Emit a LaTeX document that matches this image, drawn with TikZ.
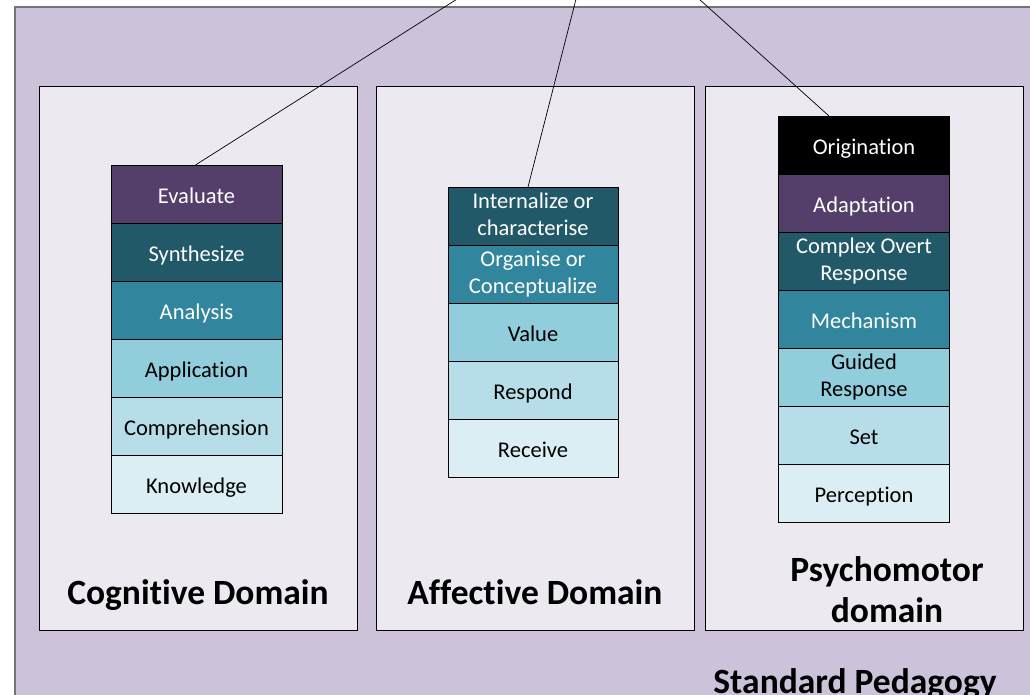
\documentclass[tikz,border=0pt]{standalone}
\usepackage{fontspec}
\setmainfont{Carlito}[Ligatures={NoCommon}]
\usetikzlibrary{positioning}

\definecolor{frameback}{HTML}{CCC3DA}
\definecolor{panelback}{HTML}{ECE9F1}
\definecolor{lvlone}{HTML}{DBEEF4}
\definecolor{lvltwo}{HTML}{B7DEE8}
\definecolor{lvlthree}{HTML}{92CDDC}
\definecolor{lvlfour}{HTML}{31859C}
\definecolor{lvlfive}{HTML}{215968}
\definecolor{lvlsix}{HTML}{543F6A}

% even strut for the level boxes
\newcommand\lvlstrut{\rule[-4pt]{0pt}{26pt}}

\tikzset{
  level/.style={draw=black, line width=0.8pt, inner sep=0pt, outer sep=0pt,
    align=center, minimum width=171pt, minimum height=58pt,
    font=\fontsize{22.5}{27}\selectfont,
    execute at begin node=\lvlstrut, execute at end node=\lvlstrut},
  light/.style={level, fill=#1, text=black},
  dark/.style={level, fill=#1, text=white},
  panel/.style={draw=black, line width=0.8pt, fill=panelback},
  domaintitle/.style={font=\fontsize{35.5}{41}\selectfont\bfseries, align=center}
}

\begin{document}
\begin{tikzpicture}[x=1pt, y=-1pt]
  \useasboundingbox (0,0) rectangle (1030,694);
  \clip (0,0) rectangle (1030,694);

  % outer frame
  \draw[draw=black!55, line width=1.5pt, fill=frameback] (15,7) rectangle (1060,720);

  % three domain panels
  \draw[panel] (39,86) rectangle (357,630);
  \draw[panel] (376,86) rectangle (694,630);
  \draw[panel] (705,86) rectangle (1023,630);

  % meeting point of the three lines, above the frame
  \coordinate (apex) at (599,-91);

  % cognitive levels
  \node[dark=lvlsix, anchor=north] (eval) at (196.5,165) {Evaluate};
  \node[dark=lvlfive, below=0pt of eval] (synth) {Synthesize};
  \node[dark=lvlfour, below=0pt of synth] (anal) {Analysis};
  \node[light=lvlthree, below=0pt of anal] (appl) {Application};
  \node[light=lvltwo, below=0pt of appl] (comp) {Comprehension};
  \node[light=lvlone, below=0pt of comp] (know) {Knowledge};

  % affective levels
  \node[dark=lvlfive, anchor=north, minimum width=170pt] (intern) at (533,187) {Internalize or\\characterise};
  \node[dark=lvlfour, below=0pt of intern, minimum width=170pt] (organ) {Organise or\\Conceptualize};
  \node[light=lvlthree, below=0pt of organ, minimum width=170pt] (value) {Value};
  \node[light=lvltwo, below=0pt of value, minimum width=170pt] (resp) {Respond};
  \node[light=lvlone, below=0pt of resp, minimum width=170pt] (recv) {Receive};

  % psychomotor levels
  \begin{scope}[every node/.append style={minimum width=170pt, minimum height=57.7pt}]
    \node[dark=black, anchor=north] (orig) at (864,116) {Origination};
    \node[dark=lvlsix, below=0pt of orig] (adapt) {Adaptation};
    \node[dark=lvlfive, below=0pt of adapt] (overt) {Complex Overt\\Response};
    \node[dark=lvlfour, below=0pt of overt] (mech) {Mechanism};
    \node[light=lvlthree, below=0pt of mech] (guided) {Guided\\Response};
    \node[light=lvltwo, below=0pt of guided] (set) {Set};
    \node[light=lvlone, below=0pt of set] (perc) {Perception};
  \end{scope}

  % lines up to the top
  \draw[line width=0.7pt] ([xshift=-1pt]eval.north) -- (apex);
  \draw[line width=0.7pt] ([xshift=-5pt]intern.north) -- (apex);
  \draw[line width=0.7pt] ([xshift=-35pt]orig.north) -- (apex);

  % domain titles
  \node[domaintitle, anchor=base] (cogn) at (198,604) {Cognitive Domain};
  \node[domaintitle, anchor=base] (affe) at (535,604) {Affective Domain};
  \node[domaintitle] (psych) at (887,590) {Psychomotor\\domain};
  \node[domaintitle] (ped) at (855,684) {Standard Pedagogy};
\end{tikzpicture}
\end{document}
